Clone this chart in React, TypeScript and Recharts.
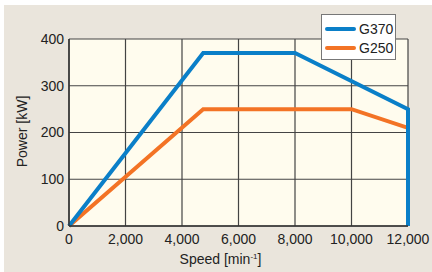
import { LineChart, Line, XAxis, YAxis, CartesianGrid, Label } from "recharts"

const speedTicks = [0, 2000, 4000, 6000, 8000, 10000, 12000]
const powerTicks = [0, 100, 200, 300, 400]

const g370Speed = [0, 4750, 8000, 12000, 12000]
const g370Power = [0, 370, 370, 250, 0]

const g250Speed = [0, 4750, 10000, 12000, 12000]
const g250Power = [0, 250, 250, 210, 0]

const BLUE = "#0a7fc8"
const ORANGE = "#f37325"
const FONT = "'Liberation Sans', Arial, sans-serif"

const toPoints = (speed: number[], power: number[]) =>
  speed.map((s, i) => ({ speed: s, power: power[i] }))

const g370 = toPoints(g370Speed, g370Power)
const g250 = toPoints(g250Speed, g250Power)

const series = [
  { name: "G370", color: BLUE },
  { name: "G250", color: ORANGE },
]

function LegendBox() {
  return (
    <div
      style={{
        position: "absolute",
        left: 321,
        top: 14,
        background: "#fff",
        border: "1px solid #777",
        width: 75,
        height: 46,
        boxSizing: "border-box",
        padding: "4px 0 0 3px",
        fontFamily: FONT,
        fontSize: 14,
        color: "#222",
      }}
    >
      {series.map((s) => (
        <div key={s.name} style={{ display: "flex", alignItems: "center", height: 19 }}>
          <div style={{ width: 31, height: 4, background: s.color, borderRadius: 2, marginRight: 3 }} />
          <span>{s.name}</span>
        </div>
      ))}
    </div>
  )
}

function SpeedLabel(props: any) {
  const vb = props.viewBox || { x: 0, y: 0, width: 0 }
  const cx = vb.x + vb.width / 2 - 18
  return (
    <text x={cx} y={264} textAnchor="middle" fontFamily={FONT} fontSize={14} fill="#222">
      Speed [min
      <tspan dy={-5} fontSize={8}>-1</tspan>
      <tspan dy={5}>]</tspan>
    </text>
  )
}

export default function App() {
  return (
    <div style={{ position: "fixed", top: 0, left: 0, width: 432, height: 272, background: "#fff" }}>
      <div style={{ position: "absolute", left: 4, top: 5, right: 0, bottom: 0, background: "#eae5dc" }} />
      <div style={{ position: "absolute", left: 0, top: 0 }}>
        <LineChart width={432} height={272} margin={{ top: 39, right: 24, bottom: 0, left: 0 }}>
          <CartesianGrid
            fill="#fffcee"
            fillOpacity={1}
            stroke="#444"
            strokeWidth={1.2}
            horizontalValues={powerTicks}
            verticalValues={speedTicks}
          />
          <XAxis
            type="number"
            dataKey="speed"
            domain={[0, 12000]}
            ticks={speedTicks}
            tickFormatter={(v: number) => v.toLocaleString("en-US")}
            tickSize={0}
            tickMargin={8}
            height={46}
            axisLine={{ stroke: "#333", strokeWidth: 1.5 }}
            tick={{ fill: "#222", fontSize: 14, fontFamily: FONT }}
            allowDuplicatedCategory={false}
          >
            <Label content={<SpeedLabel />} />
          </XAxis>
          <YAxis
            type="number"
            dataKey="power"
            domain={[0, 400]}
            ticks={powerTicks}
            width={69}
            tickSize={0}
            tickMargin={5}
            axisLine={{ stroke: "#333", strokeWidth: 1.5 }}
            tick={{ fill: "#222", fontSize: 14, fontFamily: FONT }}
          >
            <Label
              value="Power [kW]"
              angle={-90}
              position="insideLeft"
              offset={0}
              dx={22}
              dy={-1}
              style={{ fontFamily: FONT, fontSize: 14, fill: "#222", textAnchor: "middle" }}
            />
          </YAxis>
          <Line
            data={g250}
            dataKey="power"
            name="G250"
            type="linear"
            stroke={ORANGE}
            strokeWidth={4}
            dot={false}
            isAnimationActive={false}
          />
          <Line
            data={g370}
            dataKey="power"
            name="G370"
            type="linear"
            stroke={BLUE}
            strokeWidth={4}
            dot={false}
            isAnimationActive={false}
          />
        </LineChart>
      </div>
      <LegendBox />
    </div>
  )
}
